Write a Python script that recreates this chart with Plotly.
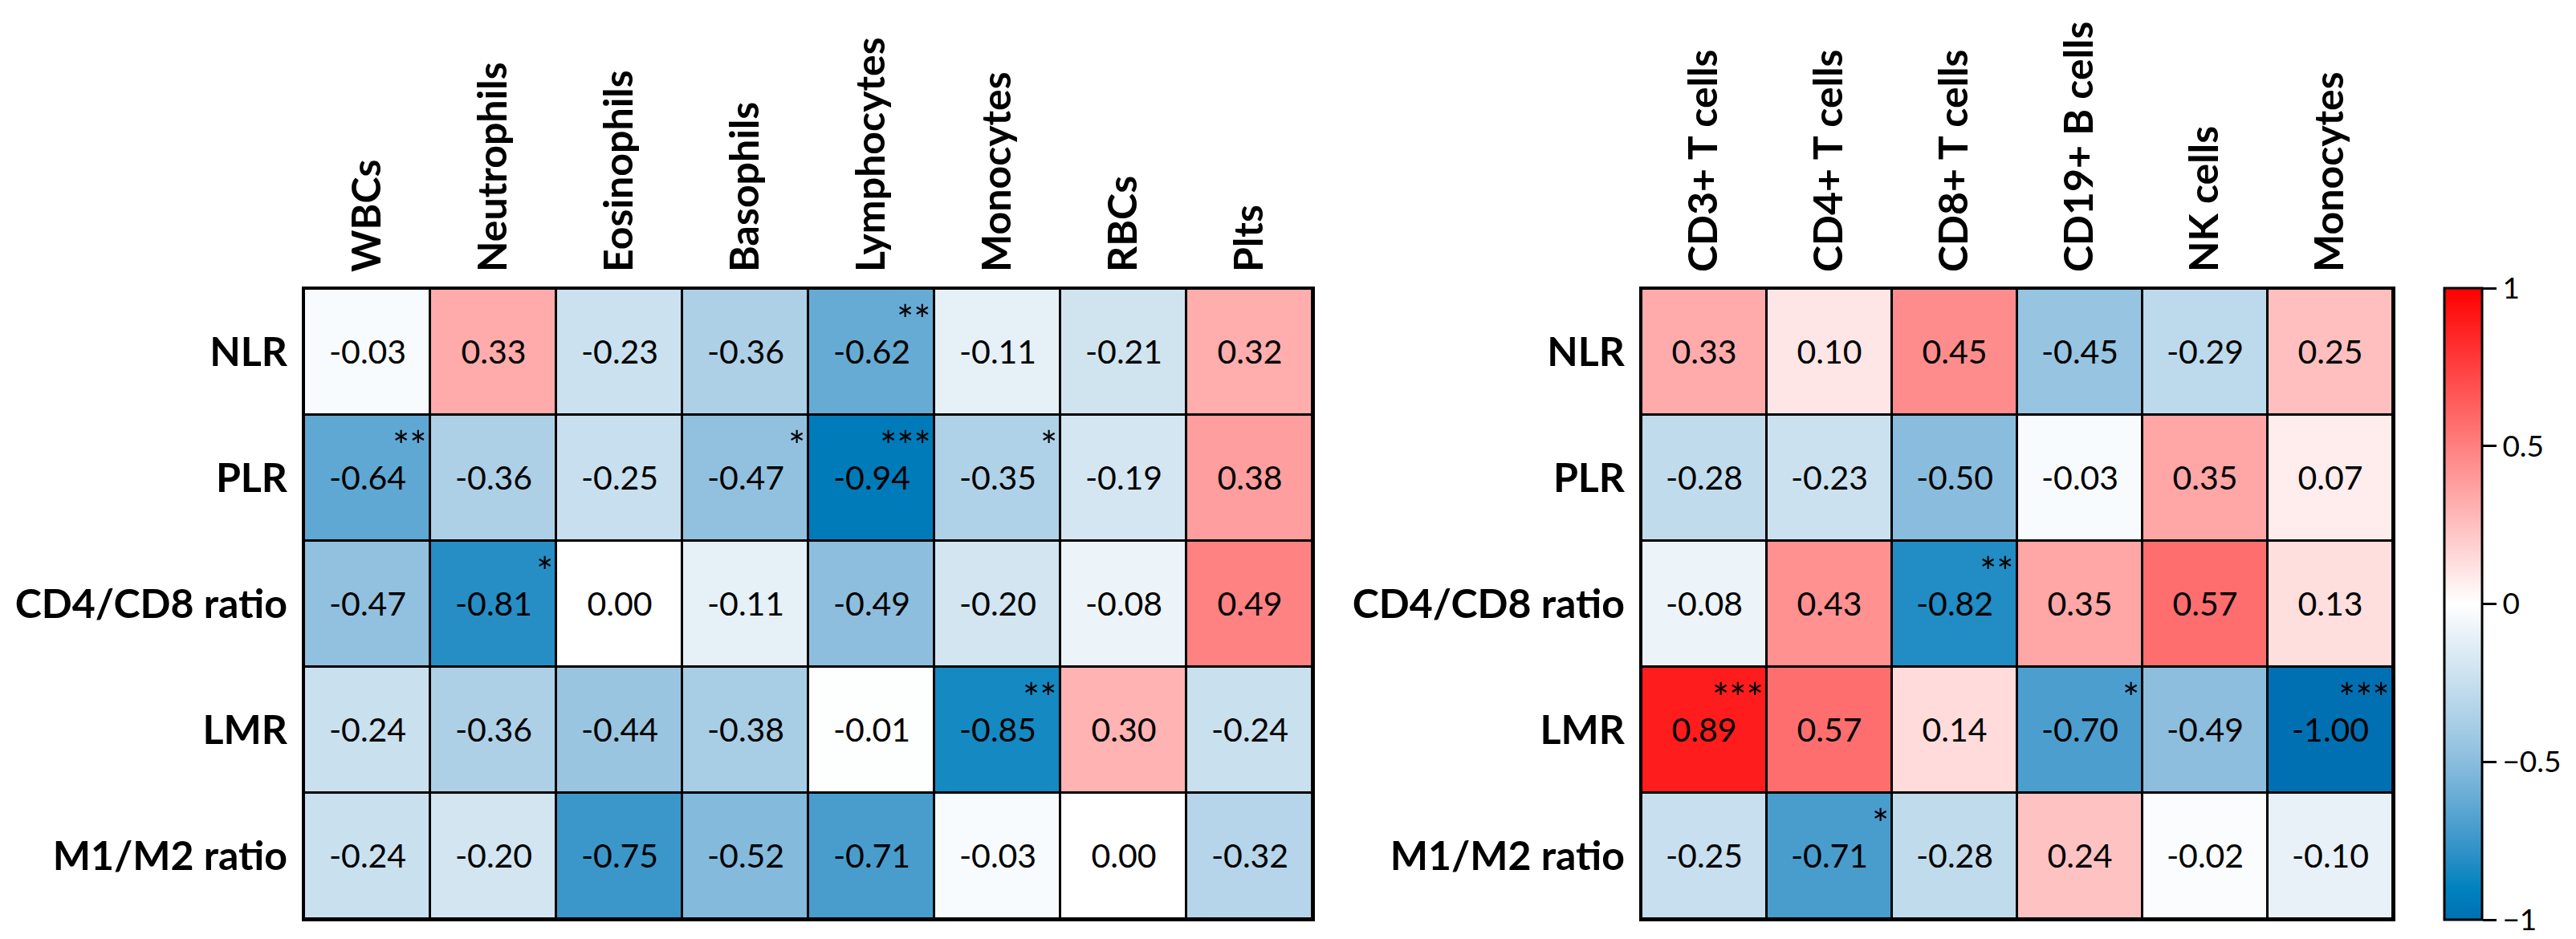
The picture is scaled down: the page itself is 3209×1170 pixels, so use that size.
import plotly.graph_objects as go

rows = ["NLR", "PLR", "CD4/CD8 ratio", "LMR", "M1/M2 ratio"]

cols_left = ["WBCs", "Neutrophils", "Eosinophils", "Basophils",
             "Lymphocytes", "Monocytes", "RBCs", "Plts"]
cols_right = ["CD3+ T cells", "CD4+ T cells", "CD8+ T cells",
              "CD19+ B cells", "NK cells", "Monocytes"]

nlr_left = [-0.03, 0.33, -0.23, -0.36, -0.62, -0.11, -0.21, 0.32]
plr_left = [-0.64, -0.36, -0.25, -0.47, -0.94, -0.35, -0.19, 0.38]
cd48_left = [-0.47, -0.81, 0.00, -0.11, -0.49, -0.20, -0.08, 0.49]
lmr_left = [-0.24, -0.36, -0.44, -0.38, -0.01, -0.85, 0.30, -0.24]
m12_left = [-0.24, -0.20, -0.75, -0.52, -0.71, -0.03, 0.00, -0.32]

nlr_right = [0.33, 0.10, 0.45, -0.45, -0.29, 0.25]
plr_right = [-0.28, -0.23, -0.50, -0.03, 0.35, 0.07]
cd48_right = [-0.08, 0.43, -0.82, 0.35, 0.57, 0.13]
lmr_right = [0.89, 0.57, 0.14, -0.70, -0.49, -1.00]
m12_right = [-0.25, -0.71, -0.28, 0.24, -0.02, -0.10]

sig_left = [
    ["", "", "", "", "**", "", "", ""],
    ["**", "", "", "*", "***", "*", "", ""],
    ["", "*", "", "", "", "", "", ""],
    ["", "", "", "", "", "**", "", ""],
    ["", "", "", "", "", "", "", ""],
]
sig_right = [
    ["", "", "", "", "", ""],
    ["", "", "", "", "", ""],
    ["", "", "**", "", "", ""],
    ["***", "", "", "*", "", "***"],
    ["", "*", "", "", "", ""],
]

cbar_ticks = [-1, -0.5, 0, 0.5, 1]
cbar_labels = ["\u22121", "\u22120.5", "0", "0.5", "1"]

left_vals = [nlr_left, plr_left, cd48_left, lmr_left, m12_left]
right_vals = [nlr_right, plr_right, cd48_right, lmr_right, m12_right]

FONT = "Lato"
W, H = 3209, 1170


def fmt(v):
    s = f"{v:.2f}"
    return "0.00" if s == "-0.00" else s


colorscale = [
    [0.00, "#0070B2"],
    [0.05, "#0082BE"],
    [0.10, "#2A8FC6"],
    [0.15, "#4C9ECE"],
    [0.20, "#6CAED6"],
    [0.25, "#8ABDDD"],
    [0.30, "#A3CBE4"],
    [0.35, "#BBD8EB"],
    [0.40, "#D2E5F1"],
    [0.45, "#E8F1F8"],
    [0.50, "#FFFFFF"],
    [1.00, "#FF0000"],
]

fig = go.Figure()

for vals, cols, xa, ya in [(left_vals, cols_left, "x", "y"),
                           (right_vals, cols_right, "x2", "y2")]:
    fig.add_trace(go.Heatmap(
        z=vals,
        x=list(range(len(cols))),
        y=list(range(len(rows))),
        text=[[fmt(v) for v in r] for r in vals],
        texttemplate="%{text}",
        textfont=dict(family=FONT, size=41, color="black"),
        coloraxis="coloraxis",
        xgap=3, ygap=3,
        hoverinfo="skip",
        xaxis=xa, yaxis=ya,
    ))

annotations = []
for sig, xref, yref in [(sig_left, "x", "y"), (sig_right, "x2", "y2")]:
    for i, r in enumerate(sig):
        for j, s in enumerate(r):
            if s:
                annotations.append(dict(
                    text=s, x=j + 0.5, y=i - 0.5, xref=xref, yref=yref,
                    xanchor="right", yanchor="top", showarrow=False,
                    xshift=-2, yshift=-6,
                    font=dict(family=FONT, size=50, color="black"),
                ))

ydom = [33 / H, 818 / H]
common_x = dict(side="top", tickangle=-90, showline=True, mirror=True,
                linewidth=3, linecolor="black", showgrid=False,
                zeroline=False, ticks="", ticklabelstandoff=8,
                tickfont=dict(family=FONT, size=50, color="black",
                              weight="bold"))
common_y = dict(showline=True, mirror=True, linewidth=3, linecolor="black",
                showgrid=False, zeroline=False, ticks="",
                ticklabelstandoff=8,
                tickfont=dict(family=FONT, size=50, color="black",
                              weight="bold"))

fig.update_layout(
    width=W, height=H,
    margin=dict(l=0, r=0, t=0, b=0),
    paper_bgcolor="white",
    plot_bgcolor="black",
    font=dict(family=FONT, color="black"),
    xaxis=dict(domain=[371 / W, 1627 / W], range=[-0.5, len(cols_left) - 0.5],
               tickvals=list(range(len(cols_left))), ticktext=cols_left,
               anchor="y", **common_x),
    yaxis=dict(domain=ydom, range=[len(rows) - 0.5, -0.5],
               tickvals=list(range(len(rows))), ticktext=rows,
               anchor="x", **common_y),
    xaxis2=dict(domain=[2037 / W, 2973 / W],
                range=[-0.5, len(cols_right) - 0.5],
                tickvals=list(range(len(cols_right))), ticktext=cols_right,
                anchor="y2", **common_x),
    yaxis2=dict(domain=ydom, range=[len(rows) - 0.5, -0.5],
                tickvals=list(range(len(rows))), ticktext=rows,
                anchor="x2", **common_y),
    coloraxis=dict(
        colorscale=colorscale, cmin=-1, cmax=1,
        colorbar=dict(
            x=3037 / W, xanchor="left", xpad=0,
            y=1 - 744.5 / H, yanchor="middle", ypad=0,
            len=787, lenmode="pixels",
            thickness=47, thicknessmode="pixels",
            outlinewidth=3, outlinecolor="black",
            ticks="outside", ticklen=17, tickwidth=3, tickcolor="black",
            tickvals=cbar_ticks, ticktext=cbar_labels,
            tickfont=dict(family=FONT, size=37, color="black"),
        ),
    ),
    annotations=annotations,
)

fig.write_html("out.html")
